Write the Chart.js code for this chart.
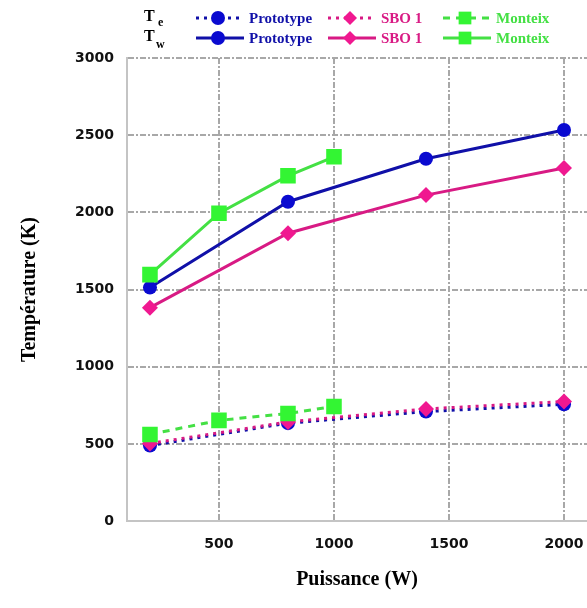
<!DOCTYPE html>
<html>
<head>
<meta charset="utf-8">
<script src="https://cdn.jsdelivr.net/npm/chart.js@4/dist/chart.umd.min.js"></script>
<style>
  body { margin: 0; background: #fff; }
  #wrap { width: 587px; height: 608px; }
</style>
</head>
<body>
<div id="wrap"><canvas id="chart"></canvas></div>
<script>
// values
var protoPower = [200, 800, 1400, 2000];
var protoTe = [490, 635, 710, 757];
var protoTw = [1513, 2069, 2347, 2534];

var sboPower = [200, 800, 1400, 2000];
var sboTe = [503, 643, 727, 775];
var sboTw = [1383, 1865, 2112, 2288];

var monteixPower = [200, 500, 800, 1000];
var monteixTe = [562, 653, 698, 743];
var monteixTw = [1597, 1995, 2237, 2360];

var xTicks = [500, 1000, 1500, 2000];
var yTicks = [0, 500, 1000, 1500, 2000, 2500, 3000];

var blue = '#1010a8', blueMark = '#0a0ad0';
var pink = '#d81a84', pinkMark = '#f01890';
var green = '#44e044', greenMark = '#33f533';

function pts(xs, ys) {
    return xs.map(function (x, i) { return { x: x, y: ys[i] }; });
}

function series(label, xs, ys, line, mark, shape, radius, dash, order) {
    return {
        label: label,
        data: pts(xs, ys),
        borderColor: line,
        backgroundColor: mark,
        pointBackgroundColor: mark,
        pointBorderColor: mark,
        pointStyle: shape,
        pointRadius: radius,
        pointBorderWidth: 0,
        borderWidth: 3,
        borderDash: dash,
        tension: 0,
        order: order
    };
}

var datasets = [
    series('Prototype', protoPower, protoTe, blue, blueMark, 'circle', 7, [3, 5], 6),
    series('SBO 1', sboPower, sboTe, pink, pinkMark, 'rectRot', 8, [3, 5], 5),
    series('Monteix', monteixPower, monteixTe, green, greenMark, 'rect', 11, [7, 6], 4),
    series('Prototype', protoPower, protoTw, blue, blueMark, 'circle', 7, [], 3),
    series('SBO 1', sboPower, sboTw, pink, pinkMark, 'rectRot', 8, [], 2),
    series('Monteix', monteixPower, monteixTw, green, greenMark, 'rect', 11, [], 1)
];

// legend in two rows (Te dotted / Tw solid), three columns
var legendPlugin = {
    id: 'twoRowLegend',
    afterDraw: function (chart) {
        var ctx = chart.ctx;
        var cols = [196, 328, 443];
        var rows = [18, 38];
        ctx.save();
        ctx.fillStyle = '#000';
        ctx.font = 'bold 16px "Liberation Serif"';
        ctx.textBaseline = 'alphabetic';
        ctx.fillText('T', 144, 21);
        ctx.fillText('T', 144, 41);
        ctx.font = 'bold 12px "Liberation Serif"';
        ctx.fillText('e', 158, 26);
        ctx.fillText('w', 156, 48);
        chart.data.datasets.forEach(function (ds, i) {
            var col = cols[i % 3];
            var y = rows[Math.floor(i / 3)];
            ctx.strokeStyle = ds.borderColor;
            ctx.lineWidth = 3;
            ctx.setLineDash(ds.borderDash);
            ctx.beginPath();
            ctx.moveTo(col, y);
            ctx.lineTo(col + 48, y);
            ctx.stroke();
            ctx.setLineDash([]);
            ctx.fillStyle = ds.pointBackgroundColor;
            ctx.strokeStyle = ds.pointBorderColor;
            Chart.helpers.drawPoint(ctx, {
                pointStyle: ds.pointStyle,
                radius: ds.pointStyle === 'rect' ? 9 : 7,
                borderWidth: 0
            }, col + 22, y);
            ctx.fillStyle = ds.borderColor;
            ctx.font = 'bold 15px "Liberation Serif"';
            ctx.textBaseline = 'middle';
            ctx.fillText(ds.label, col + 53, y + 1);
        });
        ctx.restore();
    }
};

function plain(v) { return String(v); }

new Chart(document.getElementById('chart'), {
    type: 'line',
    data: { datasets: datasets },
    plugins: [legendPlugin],
    options: {
        responsive: true,
        maintainAspectRatio: false,
        animation: false,
        layout: { autoPadding: false, padding: { top: 58, right: 0, left: 14, bottom: 12 } },
        plugins: { legend: { display: false }, tooltip: { enabled: false } },
        scales: {
            x: {
                type: 'linear',
                min: 100,
                max: 2100,
                afterBuildTicks: function (scale) {
                    scale.ticks = xTicks.map(function (v) { return { value: v }; });
                },
                afterFit: function (scale) {
                    scale.paddingRight = 0;
                },
                grid: { color: '#a8a8a8', lineWidth: 2, drawTicks: false },
                border: { color: '#c4c4c4', width: 2, dash: [6, 2, 2, 2] },
                ticks: { color: '#111', padding: 15, callback: plain, maxRotation: 0,
                         font: { family: 'DejaVu Sans', size: 14, weight: 'bold' } },
                title: {
                    display: true,
                    text: 'Puissance (W)',
                    color: '#000',
                    padding: { top: 0, bottom: 4 },
                    font: { family: 'Liberation Serif', size: 20, weight: 'bold' }
                }
            },
            y: {
                min: 0,
                max: 3000,
                afterBuildTicks: function (scale) {
                    scale.ticks = yTicks.map(function (v) { return { value: v }; });
                },
                grid: { color: '#a8a8a8', lineWidth: 2, drawTicks: false },
                border: { color: '#c4c4c4', width: 2, dash: [6, 2, 2, 2] },
                ticks: { color: '#111', padding: 13, callback: plain,
                         font: { family: 'DejaVu Sans', size: 14, weight: 'bold' } },
                title: {
                    display: true,
                    text: 'Température (K)',
                    color: '#000',
                    padding: { bottom: 20 },
                    font: { family: 'Liberation Serif', size: 20, weight: 'bold' }
                }
            }
        }
    }
});
</script>
</body>
</html>
